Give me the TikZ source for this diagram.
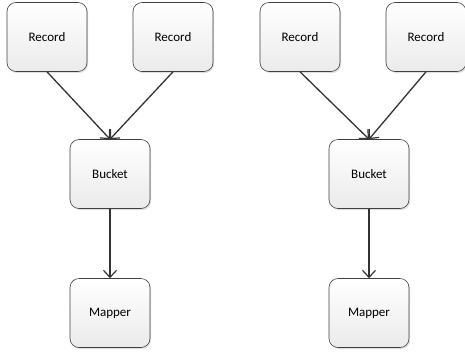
\documentclass[tikz,border=0pt]{standalone}
\usepackage{fontspec}
\setmainfont{Carlito}
\usetikzlibrary{arrows.meta,shadows}

\begin{document}
\begin{tikzpicture}[x=1pt,y=-1pt,
  box/.style={draw=black!75, line width=0.6pt, rounded corners=9pt,
    minimum width=80pt, minimum height=69pt, top color=white,
    bottom color=black!8, drop shadow={shadow xshift=1.2pt, shadow yshift=-1.5pt, opacity=0.25},
    font=\fontsize{13}{15}\selectfont},
  link/.style={draw=black!80, line width=1.3pt,
    -{Straight Barb[length=7pt,width=13pt,line width=1.2pt]}}]
\useasboundingbox (0,0) rectangle (465,354);

% Left group
\node[box] (r1) at (47,37) {Record};
\node[box] (r2) at (173,37) {Record};
\node[box] (b1) at (110,174) {Bucket};
\node[box] (m1) at (110,313) {Mapper};

% Right group
\node[box] (r3) at (300,37) {Record};
\node[box] (r4) at (426,37) {Record};
\node[box] (b2) at (369,174) {Bucket};
\node[box] (m2) at (369,313) {Mapper};

% Records into buckets, buckets into mappers
\draw[link] (r1.south) -- (b1.north);
\draw[link] (r2.south) -- (b1.north);
\draw[link] (b1.south) -- (m1.north);
\draw[link] (r3.south) -- (b2.north);
\draw[link] (r4.south) -- (b2.north);
\draw[link] (b2.south) -- (m2.north);
\end{tikzpicture}
\end{document}
